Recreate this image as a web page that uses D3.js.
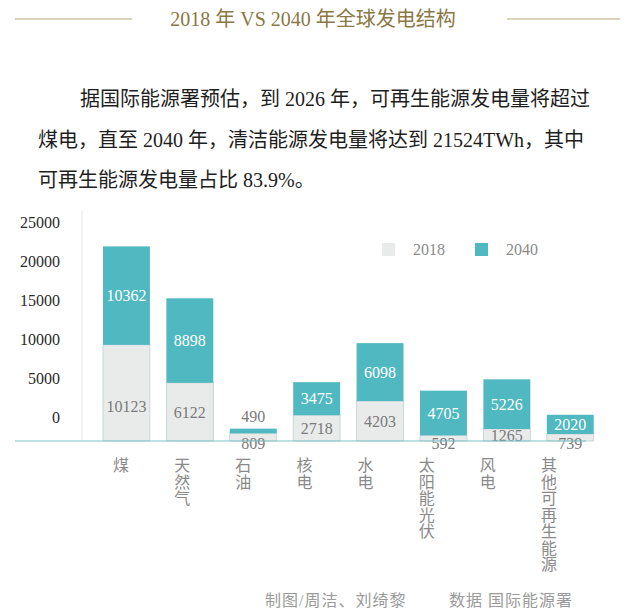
<!DOCTYPE html>
<html><head><meta charset="utf-8">
<script src="https://cdn.jsdelivr.net/npm/d3@7"></script>
<style>
html,body{margin:0;padding:0;background:#fff;}
svg{display:block;font-family:"Liberation Serif","Noto Sans CJK SC",serif;}
</style></head>
<body><svg id="c" width="644" height="614"></svg>
<script>
const categories = ["煤","天然气","石油","核电","水电","太阳能光伏","风电","其他可再生能源"];
const v2018 = [10123, 6122, 809, 2718, 4203, 592, 1265, 739];
const v2040 = [10362, 8898, 490, 3475, 6098, 4705, 5226, 2020];
const yTicks = [0, 5000, 10000, 15000, 20000, 25000];
const seriesNames = ["2018", "2040"];
const title = "2018 年 VS 2040 年全球发电结构";
const paragraph = [
  "据国际能源署预估，到 2026 年，可再生能源发电量将超过",
  "煤电，直至 2040 年，清洁能源发电量将达到 21524TWh，其中",
  "可再生能源发电量占比 83.9%。"
];
const credit = "制图/周洁、刘绮黎";
const source = "数据 国际能源署";

const svg = d3.select("#c");
const C18 = "#e9eaea", C40 = "#50b8c0";

// title
svg.append("line").attr("x1",15).attr("x2",132).attr("y1",19).attr("y2",19).attr("stroke","#b5a67a").attr("stroke-width",1);
svg.append("line").attr("x1",507).attr("x2",620).attr("y1",19).attr("y2",19).attr("stroke","#b5a67a").attr("stroke-width",1);
svg.append("text").attr("x",313).attr("y",26).attr("text-anchor","middle")
  .attr("font-size",20).attr("fill","#8a7845").text(title);

// paragraph
const px = [80, 38, 38], py = [106, 147, 187];
paragraph.forEach((t,i)=>{
  svg.append("text").attr("x",px[i]).attr("y",py[i]).attr("font-size",20).attr("fill","#1e1e1e").text(t);
});

// scales
const y = d3.scaleLinear().domain([0,25000]).range([441, 441-237.5]);
const yAxisScale = d3.scaleLinear().domain([0,25000]).range([417, 222]);
const x = d3.scaleBand().domain(categories).range([86.5, 610.2]).padding(0.26);
const xLab = d3.scalePoint().domain(categories).range([121, 549]);

// faint y axis line
svg.append("line").attr("x1",82).attr("x2",82).attr("y1",210).attr("y2",441).attr("stroke","#e3eaec");

// y axis
const ax = svg.append("g").attr("transform","translate(64,0)")
  .call(d3.axisLeft(yAxisScale).tickValues(yTicks).tickSize(0).tickPadding(4).tickFormat(d3.format("d")));
ax.select(".domain").remove();
ax.selectAll("text").attr("font-size",16).attr("fill","#2a2a2a").attr("font-family","Liberation Serif");

// bars
const g = svg.append("g");
categories.forEach((c,i)=>{
  const x0 = x(c), w = x.bandwidth();
  const b = y(0), s = y(v2018[i]), t = y(v2018[i]+v2040[i]);
  g.append("rect").attr("x",x0).attr("y",s).attr("width",w).attr("height",b-s)
    .attr("fill",C18).attr("stroke","#bfd0d5").attr("stroke-width",0.8);
  g.append("rect").attr("x",x0).attr("y",t).attr("width",w).attr("height",s-t)
    .attr("fill",C40);
  const cx = x0 + w/2;
  const h18 = b - s;
  const ly18 = h18 < 10 ? b + 2 : Math.max((b+s)/2, b - 35);
  g.append("text").attr("x",cx).attr("y",ly18).attr("dy","0.35em").attr("text-anchor","middle")
    .attr("font-size",16).attr("fill","#7a7a7a").text(v2018[i]);
  const h40 = s - t;
  const small = h40 < 15;
  g.append("text").attr("x",cx).attr("y", small ? t - 12 : (s+t)/2).attr("dy","0.35em").attr("text-anchor","middle")
    .attr("font-size",16).attr("fill", small ? "#7a7a7a" : "#ffffff").text(v2040[i]);
});

// baseline
svg.append("line").attr("x1",15).attr("x2",586).attr("y1",y(0)).attr("y2",y(0)).attr("stroke","#7cc3c8").attr("stroke-width",1.2);

// x labels (vertical)
svg.append("g").selectAll("text").data(categories).join("text")
  .attr("x", d => xLab(d)).attr("y", 457)
  .attr("font-size",16).attr("fill","#8a8a8a")
  .attr("font-family","Noto Sans CJK SC")
  .style("writing-mode","vertical-rl").style("text-orientation","upright")
  .style("letter-spacing","0.5px")
  .text(d => d);

// legend
const leg = svg.append("g");
[[C18,382,413],[C40,475,506]].forEach((d,i)=>{
  leg.append("rect").attr("x",d[1]).attr("y",243).attr("width",13).attr("height",13).attr("fill",d[0]);
  leg.append("text").attr("x",d[2]).attr("y",249.5).attr("dy","0.35em").attr("font-size",16).attr("fill","#8a8a8a").text(seriesNames[i]);
});

// footer
svg.append("text").attr("x",265).attr("y",606).attr("font-size",16).style("letter-spacing","1px").attr("fill","#9a9a9a").text(credit);
svg.append("text").attr("x",449).attr("y",606).attr("font-size",16).style("letter-spacing","1px").attr("fill","#9a9a9a").text(source);
</script></body></html>
